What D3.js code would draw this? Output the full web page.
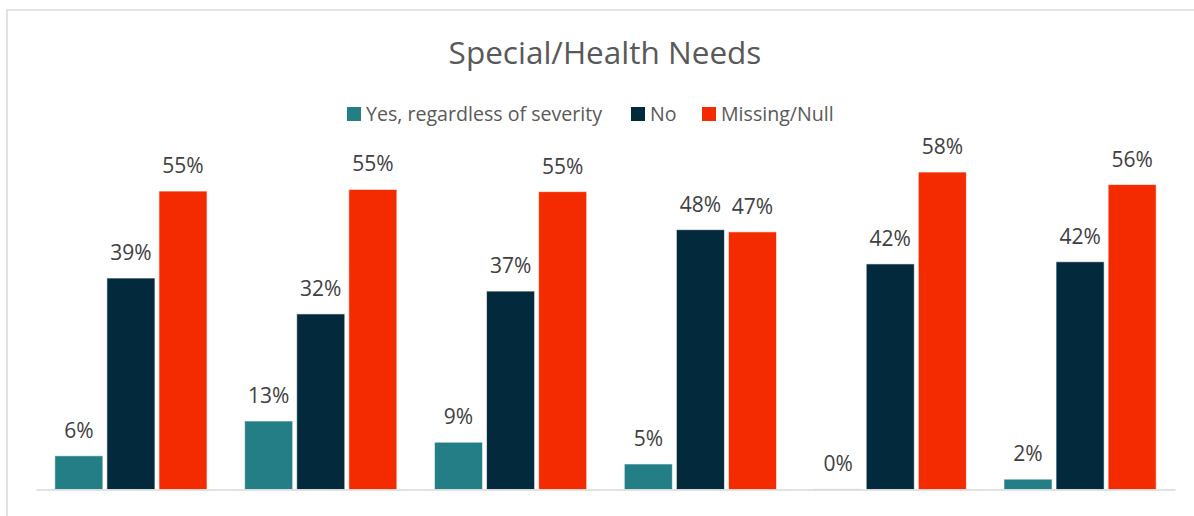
<!DOCTYPE html>
<html>
<head>
<meta charset="utf-8">
<script src="https://cdn.jsdelivr.net/npm/d3@7"></script>
<style>
  html, body { margin: 0; padding: 0; background: #fff; }
  svg { display: block; }
  text { font-family: "Open Sans", "Noto Sans", sans-serif; }
</style>
</head>
<body>
<svg id="chart" width="1194" height="516"></svg>
<script>
const title = "Special/Health Needs";
const categories = ["Group 1", "Group 2", "Group 3", "Group 4", "Group 5", "Group 6"];
const seriesNames = ["Yes, regardless of severity", "No", "Missing/Null"];
const seriesColors = ["#237E86", "#022A3C", "#F52B00"];
const yesValues = [0.062, 0.126, 0.087, 0.047, 0.001, 0.019];
const noValues = [0.389, 0.323, 0.365, 0.478, 0.415, 0.419];
const missingValues = [0.549, 0.552, 0.548, 0.474, 0.584, 0.561];
const seriesValues = [yesValues, noValues, missingValues];

const svg = d3.select("#chart");
const W = 1194, H = 516;

// chart border (extends beyond right and bottom edges)
svg.append("rect")
  .attr("x", 7).attr("y", 10)
  .attr("width", W + 20).attr("height", H + 20)
  .attr("fill", "none").attr("stroke", "#D9D9D9").attr("stroke-width", 1.5);

const plot = { left: 36, right: 1175, top: 109, bottom: 489.5 };

const x0 = d3.scaleBand().domain(categories).range([plot.left, plot.right]).paddingInner(0).paddingOuter(0);
const inner = 18.8;
const x1 = d3.scaleBand().domain(seriesNames)
  .range([inner, x0.bandwidth() - inner]).paddingInner(0.077).paddingOuter(0);
const y = d3.scaleLinear().domain([0, 0.7]).range([plot.bottom, plot.top]);

const fmt = d3.format(".0%");

// bars
const groups = svg.append("g").selectAll("g")
  .data(categories).join("g")
  .attr("transform", d => `translate(${x0(d)},0)`);

groups.each(function(cat, ci) {
  const g = d3.select(this);
  seriesNames.forEach((s, si) => {
    const v = seriesValues[si][ci];
    g.append("rect")
      .attr("x", x1(s))
      .attr("y", y(v))
      .attr("width", x1.bandwidth())
      .attr("height", Math.max(0, y(0) - y(v)))
      .attr("fill", seriesColors[si])
      .attr("stroke", "#ffffff")
      .attr("stroke-opacity", 0.6)
      .attr("stroke-width", 1);
    g.append("text")
      .attr("x", x1(s) + x1.bandwidth() / 2)
      .attr("y", y(v) - 18)
      .attr("text-anchor", "middle")
      .attr("font-size", 21)
      .attr("fill", "#404040")
      .text(fmt(v));
  });
});

// baseline axis (no tick labels)
svg.append("g")
  .attr("transform", `translate(0,${plot.bottom})`)
  .call(d3.axisBottom(x0).tickSize(0).tickFormat(""))
  .call(g => g.select(".domain").attr("stroke", "#D9D9D9").attr("stroke-width", 1.5));

// title
svg.append("text")
  .attr("x", 605).attr("y", 64)
  .attr("text-anchor", "middle")
  .attr("font-size", 31.5)
  .attr("fill", "#595959")
  .text(title);

// legend
const legendX = [347, 631, 702];
const legend = svg.append("g");
seriesNames.forEach((s, i) => {
  legend.append("rect")
    .attr("x", legendX[i]).attr("y", 107)
    .attr("width", 14).attr("height", 14)
    .attr("fill", seriesColors[i]);
  legend.append("text")
    .attr("x", legendX[i] + 19).attr("y", 121)
    .attr("font-size", 19.6)
    .attr("fill", "#595959")
    .text(s);
});
</script>
</body>
</html>
